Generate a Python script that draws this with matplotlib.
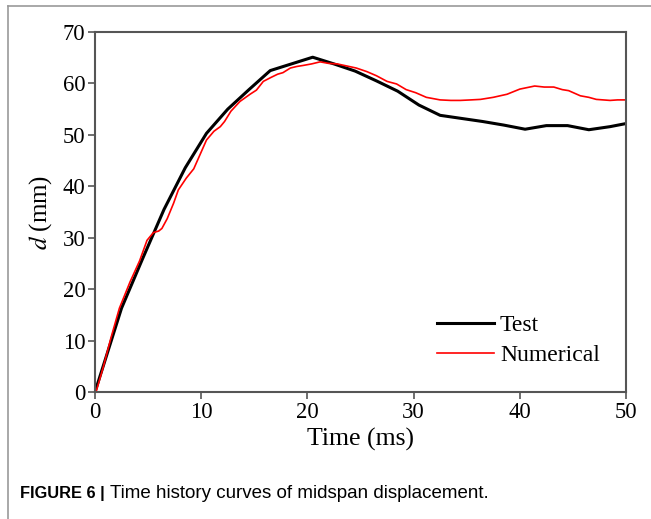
import matplotlib.pyplot as plt
from matplotlib.lines import Line2D

# data
test_t = [0, 1, 2.5, 4.5, 6.5, 8.5, 10.5, 12.5, 14.5, 16.5, 18.5, 20.5, 22.5, 24.5,
          26.5, 28.5, 30.5, 32.5, 34.5, 36.5, 38.5, 40.5, 42.5, 44.5, 46.5, 48.5, 50]
test_d = [0, 6.5, 16.3, 26, 35.5, 43.6, 50.3, 55.0, 58.8, 62.5, 63.8, 65.1, 63.8, 62.4,
          60.5, 58.5, 55.8, 53.8, 53.2, 52.6, 51.9, 51.1, 51.8, 51.8, 51.0, 51.6, 52.2]

num_t = [0.1, 0.8, 1.5, 2.3, 3.3, 4.2, 4.9, 5.5, 6.0, 6.3, 6.8, 7.4, 7.85, 8.6, 9.3,
         9.9, 10.5, 11.2, 11.8, 12.2, 12.8, 13.65, 14.6, 15.2, 15.85, 16.6, 17.2, 17.7,
         18.4, 19.0, 19.6, 20.4, 21.2, 22.0, 22.8, 23.7, 24.6, 25.6, 26.5, 27.5, 28.4,
         29.3, 30.2, 31.2, 32.5, 33.5, 34.4, 35.4, 36.3, 37.5, 38.8, 40.0, 41.4, 42.3,
         43.2, 44.0, 44.6, 45.7, 46.5, 47.2, 48.5, 49.2, 50]
num_d = [0, 5, 10.5, 16.3, 21.4, 25.5, 29.5, 31.0, 31.3, 31.8, 33.7, 36.7, 39.3, 41.6,
         43.4, 46.2, 49.0, 50.7, 51.6, 52.6, 54.6, 56.5, 57.9, 58.7, 60.4, 61.2, 61.8,
         62.1, 63.0, 63.3, 63.5, 63.8, 64.2, 63.9, 63.8, 63.4, 63.0, 62.3, 61.5, 60.4,
         59.9, 58.8, 58.2, 57.3, 56.8, 56.7, 56.7, 56.8, 56.9, 57.3, 57.9, 58.9, 59.5,
         59.3, 59.3, 58.8, 58.6, 57.6, 57.3, 56.9, 56.7, 56.8, 56.8]

plt.rcParams['font.family'] = ['Liberation Serif', 'DejaVu Serif']
plt.rcParams['mathtext.fontset'] = 'stix'

fig = plt.figure(figsize=(6.51, 5.19), dpi=100)
ax = fig.add_axes([0.1459, 0.2447, 0.8157, 0.6936])

ax.plot(test_t, test_d, color='black', lw=2.2, label='Test')
ax.plot(num_t, num_d, color='red', lw=1.2, label='Numerical')

ax.set_xlim(0, 50)
ax.set_ylim(0, 70)
ax.set_xticks([0, 10, 20, 30, 40, 50])
ax.set_yticks(range(0, 71, 10))
ax.tick_params(direction='out', length=5, width=1.2, labelsize=16.3, color='#555555',
               pad=2)
ax.tick_params(top=False, right=False)
for s in ax.spines.values():
    s.set_color('#555555')
    s.set_linewidth(1.5)

ax.set_xlabel('Time (ms)', fontsize=18.5, labelpad=4)
ax.set_ylabel('$d$ (mm)', fontsize=18, labelpad=6)

ax.legend(loc='center left', bbox_to_anchor=(0.645, 0.143), frameon=False, fontsize=17,
          handlelength=2.4, handletextpad=0.25, labelspacing=0.35,
          borderpad=0, borderaxespad=0)

# figure frame (top and left edges only visible)
fig.add_artist(Line2D([0.0123, 1.0], [0.988, 0.988], color='#999999', lw=1.2))
fig.add_artist(Line2D([0.0123, 0.0123], [0.0, 0.988], color='#999999', lw=1.2))

fig.text(0.031, 0.040, 'FIGURE 6 |', fontsize=11.8, fontweight='bold',
         family=['Liberation Sans'])
fig.text(0.169, 0.040, 'Time history curves of midspan displacement.', fontsize=13.5,
         family=['Liberation Sans'])

fig.savefig('out.png', dpi=100)
